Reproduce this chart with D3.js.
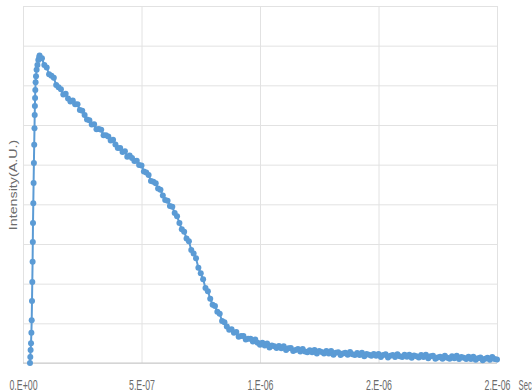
<!DOCTYPE html>
<html>
<head>
<meta charset="utf-8">
<script src="https://cdn.jsdelivr.net/npm/d3@7/dist/d3.min.js"></script>
<style>
  html, body { margin: 0; padding: 0; background: #fff; }
  svg { display: block; }
  text { font-family: "Liberation Sans", Arial, sans-serif; fill: #6b6b6b; }
</style>
</head>
<body>
<svg id="chart" width="532" height="392"></svg>
<script>
// Rising edge of the transient (seconds, intensity)
const riseTimes = [2.95e-8, 3.08e-8, 3.21e-8, 3.38e-8, 3.54e-8, 3.67e-8, 3.80e-8, 3.92e-8, 4.05e-8,
  4.14e-8, 4.22e-8, 4.35e-8, 4.47e-8, 4.60e-8, 4.73e-8, 4.85e-8, 4.94e-8, 5.02e-8, 5.10e-8,
  5.19e-8, 5.32e-8, 5.49e-8, 5.74e-8, 6.08e-8, 6.46e-8, 6.84e-8];
const riseValues = [0, 0.15, 0.33, 0.50, 0.76, 1.08, 1.56, 2.04, 2.55, 3.05, 3.53, 4.03, 4.54,
  5.04, 5.50, 5.92, 6.25, 6.48, 6.68, 6.88, 7.08, 7.23, 7.39, 7.51, 7.64, 7.71];

// Decay part, recorded every 10 ns starting at 70 ns
const decayStart = 7e-8;
const sampleStep = 1e-8;
const decayValues = [
  7.75, 7.68, 7.51, 7.45, 7.28, 7.24, 7.19, 7.01, 6.95, 6.90,
  6.77, 6.79, 6.67, 6.59, 6.62, 6.52, 6.52, 6.38, 6.36, 6.25,
  6.14, 6.12, 6.01, 6.02, 5.89, 5.90, 5.88, 5.74, 5.74, 5.71,
  5.61, 5.63, 5.51, 5.42, 5.42, 5.32, 5.34, 5.20, 5.23, 5.17,
  5.09, 5.10, 4.99, 4.98, 4.83, 4.80, 4.74, 4.59, 4.57, 4.53,
  4.40, 4.37, 4.22, 4.11, 4.09, 3.96, 3.94, 3.78, 3.70, 3.53,
  3.37, 3.31, 3.14, 3.07, 2.85, 2.76, 2.64, 2.40, 2.26, 2.11,
  1.89, 1.81, 1.62, 1.47, 1.44, 1.29, 1.24, 1.06, 1.03, 0.92,
  0.84, 0.85, 0.76, 0.78, 0.66, 0.68, 0.68, 0.59, 0.61, 0.61,
  0.54, 0.59, 0.51, 0.46, 0.51, 0.44, 0.49, 0.39, 0.44, 0.42,
  0.38, 0.43, 0.37, 0.42, 0.33, 0.37, 0.38, 0.30, 0.33, 0.35,
  0.29, 0.35, 0.29, 0.27, 0.32, 0.27, 0.33, 0.24, 0.30, 0.28,
  0.24, 0.30, 0.24, 0.30, 0.21, 0.26, 0.27, 0.20, 0.24, 0.26,
  0.21, 0.28, 0.22, 0.20, 0.25, 0.20, 0.26, 0.17, 0.23, 0.21,
  0.18, 0.23, 0.18, 0.23, 0.15, 0.20, 0.22, 0.14, 0.18, 0.20,
  0.15, 0.22, 0.17, 0.15, 0.21, 0.16, 0.21, 0.13, 0.19, 0.17,
  0.14, 0.20, 0.15, 0.21, 0.12, 0.17, 0.18, 0.11, 0.14, 0.16,
  0.11, 0.18, 0.13, 0.11, 0.17, 0.12, 0.18, 0.10, 0.15, 0.13,
  0.10, 0.16, 0.10, 0.16, 0.08, 0.12, 0.14, 0.07, 0.11, 0.13,
  0.08, 0.15, 0.10, 0.09
];

// Axis ticks
const xTickValues = [0, 5e-7, 1e-6, 1.5e-6, 2e-6];
const xTickLabels = ["0.E+00", "5.E-07", "1.E-06", "2.E-06", "2.E-06"];
const yTickValues = [0, 1, 2, 3, 4, 5, 6, 7, 8, 9];
const xUnit = "Sec";
const yTitle = "Intensity(A.U.)";

const points = riseTimes.map((t, i) => ({ t, v: riseValues[i] }))
  .concat(decayValues.map((v, i) => ({ t: decayStart + i * sampleStep, v })));

const svg = d3.select("#chart");
const plot = { left: 23, right: 497, top: 6, bottom: 363 };

const x = d3.scaleLinear().domain([0, 2e-6]).range([plot.left, plot.right]);
const y = d3.scaleLinear().domain([0, 9]).range([plot.bottom, plot.top]);

// Horizontal gridlines
svg.append("g")
  .attr("transform", `translate(${plot.left},0)`)
  .call(d3.axisLeft(y).tickValues(yTickValues).tickSize(-(plot.right - plot.left)).tickFormat(""))
  .call(g => g.select(".domain").remove())
  .call(g => g.selectAll(".tick line").attr("stroke", "#e2e2e2").attr("stroke-width", 1));

// Vertical gridlines + tick labels (narrow, tall lettering)
const xAxis = svg.append("g")
  .attr("transform", `translate(0,${plot.bottom})`)
  .call(d3.axisBottom(x).tickValues(xTickValues).tickSize(-(plot.bottom - plot.top))
    .tickFormat((d, i) => xTickLabels[i]).tickPadding(0))
  .call(g => g.select(".domain").remove());
xAxis.selectAll(".tick line").attr("stroke", "#e2e2e2").attr("stroke-width", 1);
xAxis.selectAll(".tick text")
  .attr("y", 0)
  .attr("dy", null)
  .attr("transform", "translate(0,26.5) scale(0.63,1)")
  .attr("font-size", 14)
  .style("font-family", "'Liberation Sans', Arial, sans-serif")
  .attr("fill", "#6b6b6b");

// Baseline axis
svg.append("line")
  .attr("x1", plot.left).attr("x2", plot.right)
  .attr("y1", y(0)).attr("y2", y(0))
  .attr("stroke", "#c8c8c8").attr("stroke-width", 1);

// Unit label at the end of the x axis
svg.append("text")
  .attr("transform", `translate(518.5,${plot.bottom + 26.5}) scale(0.55,1)`)
  .attr("font-size", 14)
  .text(xUnit);

// Y axis title
svg.append("text")
  .attr("transform", `translate(14,185) rotate(-90) scale(1.4,1)`)
  .attr("text-anchor", "middle")
  .attr("dominant-baseline", "central")
  .attr("font-size", 10.2)
  .text(yTitle);

// Series: line with markers
const color = "#5b9bd5";
svg.append("path")
  .datum(points)
  .attr("fill", "none")
  .attr("stroke", color)
  .attr("stroke-width", 2)
  .attr("d", d3.line().x(d => x(d.t)).y(d => y(d.v)));

svg.append("g")
  .selectAll("circle")
  .data(points)
  .join("circle")
  .attr("cx", d => x(d.t))
  .attr("cy", d => y(d.v))
  .attr("r", 3)
  .attr("fill", color);
</script>
</body>
</html>
